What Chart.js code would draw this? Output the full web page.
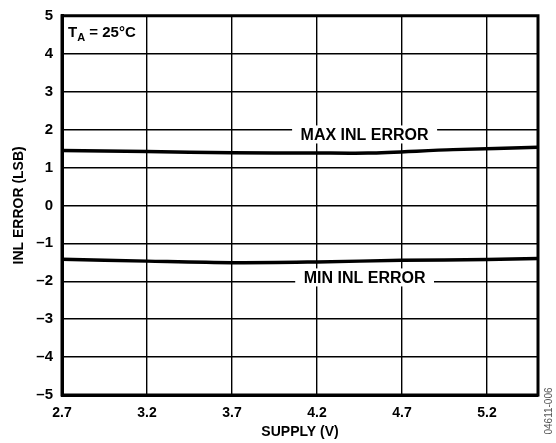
<!DOCTYPE html>
<html>
<head>
<meta charset="utf-8">
<script src="https://cdn.jsdelivr.net/npm/chart.js@4.4.1/dist/chart.umd.min.js"></script>
<style>
  html, body { margin: 0; padding: 0; background: #fff; }
  #wrap { width: 556px; height: 443px; position: relative; }
</style>
</head>
<body>
<div id="wrap"><canvas id="chart"></canvas></div>
<script>
// supply voltage (V)
const supplyMax = [2.7, 3.2, 3.7, 4.2, 4.5, 5.0, 5.5];
const maxInl = [1.45, 1.42, 1.39, 1.38, 1.38, 1.47, 1.53];
const supplyMin = [2.7, 3.2, 3.7, 4.2, 4.7, 5.2, 5.5];
const minInl = [-1.42, -1.47, -1.51, -1.49, -1.45, -1.43, -1.40];

const xTicks = [2.7, 3.2, 3.7, 4.2, 4.7, 5.2, 5.5];
const xTickLabels = ["2.7", "3.2", "3.7", "4.2", "4.7", "5.2", ""];

// curve labels: [text, x value, y value]
const curveLabels = [
  ["MAX INL ERROR", 4.48, 1.87],
  ["MIN INL ERROR", 4.48, -1.9]
];

const FONT = "'Liberation Sans', Arial, sans-serif";

function toPoints(xs, ys) {
  return xs.map((x, i) => ({ x: x, y: ys[i] }));
}

const annotate = {
  id: "annotate",
  afterDraw(chart) {
    const { ctx, chartArea, scales } = chart;
    ctx.save();

    // thick frame
    ctx.strokeStyle = "#000";
    ctx.lineWidth = 3;
    ctx.strokeRect(chartArea.left, chartArea.top,
      chartArea.right - chartArea.left, chartArea.bottom - chartArea.top);

    // curve labels with white box
    ctx.font = "bold 16px " + FONT;
    ctx.textAlign = "center";
    ctx.textBaseline = "middle";
    curveLabels.forEach(([txt, xv, yv]) => {
      const px = scales.x.getPixelForValue(xv);
      const py = scales.y.getPixelForValue(yv);
      const w = ctx.measureText(txt).width + 17;
      ctx.fillStyle = "#fff";
      ctx.fillRect(px - w / 2, py - 9, w, 18);
      ctx.fillStyle = "#000";
      ctx.fillText(txt, px, py + 1);
    });

    // T_A = 25°C
    ctx.textAlign = "left";
    ctx.textBaseline = "alphabetic";
    let x = chartArea.left + 6;
    const y = chartArea.top + 21;
    ctx.font = "bold 15px " + FONT;
    ctx.fillText("T", x, y);
    x += ctx.measureText("T").width;
    ctx.font = "bold 11px " + FONT;
    ctx.fillText("A", x, y + 4);
    x += ctx.measureText("A").width;
    ctx.font = "bold 15px " + FONT;
    ctx.fillText(" = 25°C", x, y);

    // figure code
    ctx.translate(549, 411);
    ctx.rotate(-Math.PI / 2);
    ctx.font = "10px " + FONT;
    ctx.fillStyle = "#555";
    ctx.textAlign = "center";
    ctx.textBaseline = "middle";
    ctx.fillText("04611-006", 0, 0);
    ctx.restore();
  }
};

new Chart(document.getElementById("chart"), {
  type: "scatter",
  data: {
    datasets: [
      {
        data: toPoints(supplyMax, maxInl),
        showLine: true,
        borderColor: "#000",
        borderWidth: 3.5,
        pointRadius: 0,
        tension: 0.3
      },
      {
        data: toPoints(supplyMin, minInl),
        showLine: true,
        borderColor: "#000",
        borderWidth: 3.5,
        pointRadius: 0,
        tension: 0.3
      }
    ]
  },
  options: {
    responsive: true,
    maintainAspectRatio: false,
    animation: false,
    layout: { padding: { top: 14, right: 18, left: 0, bottom: 0 } },
    plugins: { legend: { display: false }, tooltip: { enabled: false } },
    scales: {
      x: {
        type: "linear",
        min: 2.7,
        max: 5.5,
        afterBuildTicks(scale) {
          scale.ticks = xTicks.map((v) => ({ value: v }));
        },
        afterFit(scale) { scale.height = 48; },
        ticks: {
          color: "#000",
          padding: 10,
          maxRotation: 0,
          font: { family: FONT, size: 14, weight: "bold" },
          callback: (v) => {
            const i = xTicks.indexOf(v);
            return i >= 0 ? xTickLabels[i] : "";
          }
        },
        grid: { color: "#000", lineWidth: 1.4, drawTicks: false },
        border: { color: "#000", width: 3 },
        title: {
          display: true,
          text: "SUPPLY (V)",
          color: "#000",
          padding: { top: 0, bottom: 2 },
          font: { family: FONT, size: 14, weight: "bold" }
        }
      },
      y: {
        min: -5,
        max: 5,
        afterFit(scale) { scale.width = 62; },
        ticks: {
          stepSize: 1,
          color: "#000",
          padding: 9,
          font: { family: FONT, size: 15, weight: "bold", lineHeight: 0.9 },
          callback: (v) => (v < 0 ? "\u2013" + Math.abs(v) : String(v))
        },
        grid: { color: "#000", lineWidth: 1.4, drawTicks: false },
        border: { color: "#000", width: 3 },
        title: {
          display: true,
          text: "INL ERROR (LSB)",
          color: "#000",
          padding: { top: 11, bottom: 0 },
          font: { family: FONT, size: 14, weight: "bold" }
        }
      }
    }
  },
  plugins: [annotate]
});
</script>
</body>
</html>
